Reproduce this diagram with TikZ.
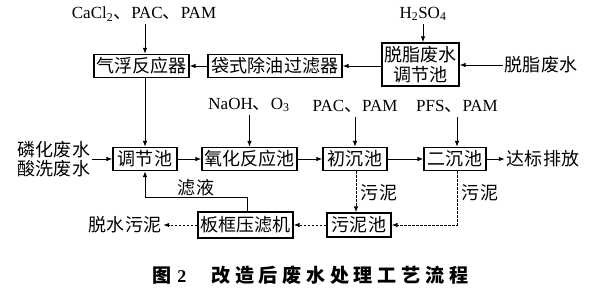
\documentclass[tikz,border=0pt]{standalone}
\usepackage{fontspec}
\setmainfont{Liberation Serif}
\newfontfamily\cjk[Scale=1.06]{Noto Sans CJK SC}
\usetikzlibrary{arrows.meta}
\begin{document}
\begin{tikzpicture}[x=1pt,y=-1pt,
  font=\fontsize{17}{18}\selectfont,
  box/.style={draw, line width=1.2pt, inner sep=0pt, minimum height=23pt, font=\fontsize{17}{18}\selectfont\cjk},
  lbl/.style={inner sep=0pt},
  arr/.style={line width=1pt, -{Latex[length=6pt,width=4.5pt]}},
  darr/.style={arr, dash pattern=on 2.5pt off 1.5pt}]
\useasboundingbox (0,0) rectangle (608,289);
% top row
\node[box, minimum width=95pt] (qf) at (141.5,66) {气浮反应器};
\node[box, minimum width=134pt] (dsc) at (275,66) {袋式除油过滤器};
\node[box, minimum width=77pt, minimum height=43pt, align=center, font=\fontsize{17}{19.5}\selectfont\cjk] (tz) at (420.5,64.5) {脱脂废水\\调节池};
\node[lbl] (dzfs) at (541,65) {\cjk 脱脂废水};
\node[lbl] (h2so4) at (423,14) {H\textsubscript{2}SO\textsubscript{4}};
\node[lbl] (cacl) at (144,14) {CaCl\textsubscript{2}{\cjk 、}PAC{\cjk 、}PAM};
% middle row
\node[box, minimum width=64pt] (tjc) at (145,159) {调节池};
\node[box, minimum width=95pt] (yh) at (249.5,159) {氧化反应池};
\node[box, minimum width=64pt] (ccc) at (355,159) {初沉池};
\node[box, minimum width=62pt] (ecc) at (455,159) {二沉池};
\node[lbl] (dbpf) at (543,159) {\cjk 达标排放};
\node[lbl, align=center, font=\fontsize{17}{18.5}\selectfont\cjk] (lh) at (54,159) {磷化废水\\酸洗废水};
\node[lbl] (naoh) at (249,105) {NaOH{\cjk 、}O\textsubscript{3}};
\node[lbl] (pac) at (355,106) {PAC{\cjk 、}PAM};
\node[lbl] (pfs) at (457,106) {PFS{\cjk 、}PAM};
% bottom row
\node[box, minimum width=64pt, minimum height=24pt] (wnc) at (359,225) {污泥池};
\node[box, minimum width=95pt, minimum height=26pt] (bk) at (245.5,225) {板框压滤机};
\node[lbl] (tswn) at (125,225) {\cjk 脱水污泥};
\node[lbl] (lyl) at (196,188) {\cjk 滤液};
\node[lbl] (wn1) at (379,193) {\cjk 污泥};
\node[lbl] (wn2) at (480,193) {\cjk 污泥};
% caption
\node[lbl, anchor=west] (cap) at (152,275) {\fontsize{18}{20}\selectfont{\cjk\bfseries 图}\kern6pt{\bfseries 2}\kern25pt{\cjk\bfseries 改\kern4.7pt 造\kern4.7pt 后\kern4.7pt 废\kern4.7pt 水\kern4.7pt 处\kern4.7pt 理\kern4.7pt 工\kern4.7pt 艺\kern4.7pt 流\kern4.7pt 程}};
% connectors top
\draw[arr, shorten <=3pt] (tjc.north |- cacl.south) -- (tjc.north |- qf.north);
\draw[arr] (dsc.west) -- (qf.east);
\draw[arr] (tz.west |- dsc.east) -- (dsc.east);
\draw[arr, shorten <=2pt] (dzfs.west) -- (dzfs.west -| tz.east);
\draw[arr, shorten <=3pt] (h2so4.south) -- (h2so4.south |- tz.north);
\draw[arr] (tjc.north |- qf.south) -- (tjc.north);
% connectors middle
\draw[arr, shorten <=2pt] (lh.east) -- (lh.east -| tjc.west);
\draw[arr] (tjc.east) -- (yh.west);
\draw[arr] (yh.east) -- (ccc.west);
\draw[arr] (ccc.east) -- (ecc.west);
\draw[arr, shorten >=2pt] (ecc.east) -- (dbpf.west);
\draw[arr, shorten <=3pt] (naoh.south -| yh.north) -- (yh.north);
\draw[arr, shorten <=5pt] (pac.south) -- (pac.south |- ccc.north);
\draw[arr, shorten <=5pt] (pfs.south) -- (pfs.south |- ecc.north);
% connectors bottom
\draw[darr] ([xshift=1pt]ccc.south) -- ([xshift=1pt]ccc.south |- wnc.north);
\draw[darr] ([xshift=2pt]ecc.south) |- (wnc.east);
\draw[darr] (wnc.west) -- (bk.east);
\draw[darr, shorten >=2pt] (bk.west) -- (tswn.east);
\draw[arr] ([xshift=1.5pt]bk.north) -- ++(0,-14) -| (tjc.south);
\end{tikzpicture}
\end{document}
